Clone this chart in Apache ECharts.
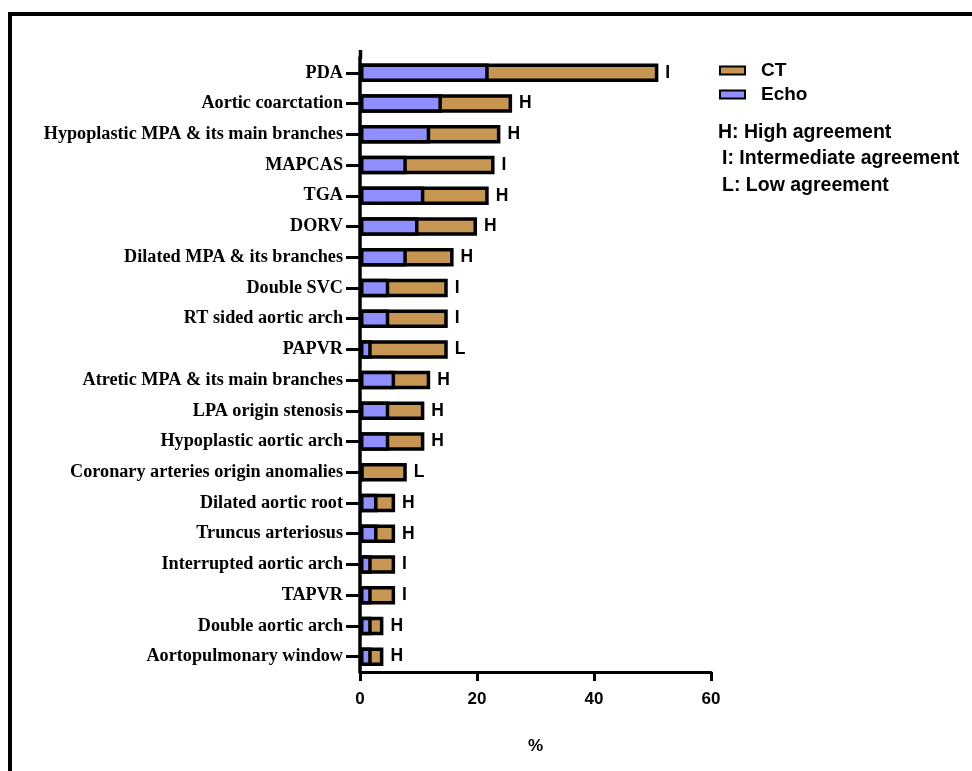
<!DOCTYPE html>
<html>
<head>
<meta charset="utf-8">
<script src="https://cdn.jsdelivr.net/npm/echarts@6/dist/echarts.min.js"></script>
<style>html,body{margin:0;padding:0;background:#fff}#c{width:972px;height:771px}</style>
</head>
<body>
<div id="c"></div>
<script>
const categories = ["PDA","Aortic coarctation","Hypoplastic MPA & its main branches","MAPCAS","TGA","DORV","Dilated MPA & its branches","Double SVC","RT sided aortic arch","PAPVR","Atretic MPA & its main branches","LPA origin stenosis","Hypoplastic aortic arch","Coronary arteries origin anomalies","Dilated aortic root","Truncus arteriosus","Interrupted aortic arch","TAPVR","Double aortic arch","Aortopulmonary window"];
const ctValues   = [51, 26, 24, 23, 22, 20, 16, 15, 15, 15, 12, 11, 11, 8, 6, 6, 6, 6, 4, 4];
const echoValues = [22, 14, 12, 8, 11, 10, 8, 5, 5, 2, 6, 5, 5, 0.6, 3, 3, 2, 2, 2, 2];
const agreement  = ["I","H","H","I","H","H","H","I","I","L","H","H","H","L","H","H","I","I","H","H"];
const xTicks = [0, 20, 40, 60];

const chart = echarts.init(document.getElementById('c'));
const sans = 'Liberation Sans, Arial, sans-serif';
const serif = 'Liberation Serif, Times New Roman, serif';
chart.setOption({
  animation: false,
  grid: {left: 360, top: 57.5, width: 351, height: 614.5, containLabel: false},
  legend: {
    orient: 'vertical', left: 719, top: 61, padding: 0, itemWidth: 25, itemHeight: 8, itemGap: 5,
    icon: 'rect',
    data: ['CT', 'Echo'],
    textStyle: {fontFamily: sans, fontWeight: 'bold', fontSize: 19, color: '#000', padding: [0, 0, 0, 11]}
  },
  xAxis: {
    type: 'value', min: xTicks[0], max: xTicks[xTicks.length - 1], interval: 20,
    name: '%', nameLocation: 'middle', nameGap: 66,
    nameTextStyle: {fontFamily: sans, fontWeight: 'bold', fontSize: 17, color: '#000'},
    axisLine: {show: true, lineStyle: {color: '#000', width: 3}},
    axisTick: {show: true, length: 9, lineStyle: {color: '#000', width: 3}},
    axisLabel: {fontFamily: sans, fontWeight: 'bold', fontSize: 17, color: '#000', margin: 19},
    splitLine: {show: false}
  },
  yAxis: {
    type: 'category', data: categories, inverse: true,
    axisLine: {show: true, lineStyle: {color: '#000', width: 3.5}},
    axisTick: {show: true, alignWithLabel: true, length: 14, lineStyle: {color: '#000', width: 3}},
    axisLabel: {fontFamily: serif, fontWeight: 'bold', fontSize: 18.2, color: '#000', margin: 17}
  },
  series: [
    {
      name: 'CT', type: 'bar', data: ctValues, barWidth: 18.5, barGap: '-100%', z: 2,
      itemStyle: {color: '#C69652', borderColor: '#000', borderWidth: 3.5},
      label: {show: true, position: 'right', distance: 7,
        formatter: p => agreement[p.dataIndex],
        fontFamily: sans, fontWeight: 'bold', fontSize: 17.5, color: '#000'}
    },
    {
      name: 'Echo', type: 'bar', data: echoValues, barWidth: 18.5, barGap: '-100%', z: 3,
      itemStyle: {color: '#8F8FFF', borderColor: '#000', borderWidth: 3.5}
    }
  ],
  graphic: [
    {type: 'polyline', shape: {points: [[10, 771], [10, 14], [972, 14]]}, style: {stroke: '#000', lineWidth: 4, fill: null}},
    {type: 'line', shape: {x1: 360.5, y1: 50, x2: 360.5, y2: 59}, style: {stroke: '#000', lineWidth: 3.5}},
    {type: 'text', left: 718, top: 123, style: {text: 'H: High agreement', font: 'bold 19.5px ' + sans, fill: '#000'}},
    {type: 'text', left: 722, top: 149, style: {text: 'I: Intermediate agreement', font: 'bold 19.5px ' + sans, fill: '#000'}},
    {type: 'text', left: 722, top: 176, style: {text: 'L: Low agreement', font: 'bold 19.5px ' + sans, fill: '#000'}}
  ]
});
</script>
</body>
</html>
